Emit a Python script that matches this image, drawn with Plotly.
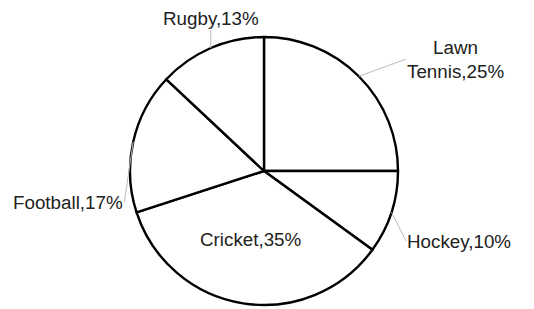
import math
import plotly.graph_objects as go

sports = ["Lawn Tennis", "Hockey", "Cricket", "Football", "Rugby"]
shares = [25, 10, 35, 17, 13]
label_text = ["Lawn<br>Tennis,25%", "Hockey,10%", "Cricket,35%", "Football,17%", "Rugby,13%"]

W, H = 534, 309
L, T, D = 122, 29, 268  # plot square (page has an 8px body margin)
R = D / 2

fig = go.Figure(go.Pie(
    labels=sports, values=shares, sort=False, direction="clockwise", rotation=0,
    textinfo="none", hoverinfo="label+percent", showlegend=False,
    marker=dict(colors=["white"] * len(sports), line=dict(color="black", width=2.4)),
))

total = sum(shares)
mids = []
acc = 0
for v in shares:
    mids.append((acc + v / 2) / total * 2 * math.pi)
    acc += v

def pt(theta, r):
    return 0.5 + r * math.sin(theta) / D, 0.5 + r * math.cos(theta) / D

styles = [
    (True, (47, -17), "left", "middle"),
    (True, (15, 29), "left", "middle"),
    (False, None, "center", "middle"),
    (True, (-9, 61), "right", "middle"),
    (True, (0, -18), "center", "bottom"),
]
font = dict(family="Arial, Liberation Sans, sans-serif", size=18.8, color="#222")
for txt, th, (outside, off, xa, ya) in zip(label_text, mids, styles):
    if outside:
        x, y = pt(th, R)
        fig.add_annotation(x=x, y=y, xref="paper", yref="paper", text=txt,
                           showarrow=True, arrowhead=0, arrowwidth=1, arrowcolor="#bbbbbb",
                           ax=off[0], ay=off[1], xanchor=xa, yanchor=ya, align="center",
                           font=font, standoff=0, borderpad=0)
    else:
        x, y = pt(th, 0.61 * R)
        fig.add_annotation(x=x, y=y, xref="paper", yref="paper", text=txt,
                           showarrow=False, font=font)

fig.update_layout(
    width=W, height=H, autosize=False,
    margin=dict(l=L, r=W - L - D, t=T, b=H - T - D, pad=0),
    paper_bgcolor="white", plot_bgcolor="white",
)
fig.write_html("out.html")
